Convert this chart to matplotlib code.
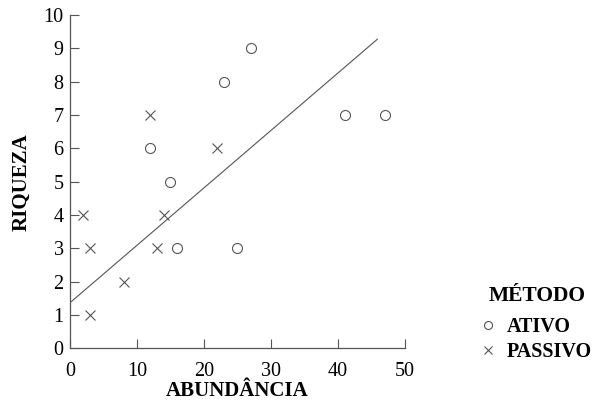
#!/usr/bin/env python3

import matplotlib
matplotlib.use("Agg")
import matplotlib.pyplot as plt
import numpy as np

# data
ativoX = [12, 15, 16, 23, 25, 27, 41, 47]
ativoY = [6, 5, 3, 8, 3, 9, 7, 7]
passivoX = [2, 3, 3, 8, 12, 13, 14, 22]
passivoY = [4, 3, 1, 2, 7, 3, 4, 6]
fitX = [0, 45.9]
fitY = [1.37, 9.27]
xTicks = [0, 10, 20, 30, 40, 50]
yTicks = list(range(0, 11))

plt.rcParams["font.family"] = ["Liberation Serif", "DejaVu Serif"]
grey = "#555555"

fig = plt.figure(figsize=(5.98, 4.01), dpi=100)
ax = fig.add_axes([0.117, 0.131, 0.56, 0.832])

ax.plot(fitX, fitY, color=grey, linewidth=0.8)
ax.plot(ativoX, ativoY, linestyle="none", marker="o", markersize=7.2,
	markerfacecolor="none", markeredgecolor=grey, markeredgewidth=0.8, label="ATIVO")
ax.plot(passivoX, passivoY, linestyle="none", marker="x", markersize=6.5,
	color=grey, markeredgewidth=0.8, label="PASSIVO")

ax.set_xlim(0, 50)
ax.set_ylim(0, 10)
ax.set_xticks(xTicks)
ax.set_yticks(yTicks)
ax.spines["top"].set_visible(False)
ax.spines["right"].set_visible(False)
for side in ["left", "bottom"]:
	ax.spines[side].set_color(grey)
	ax.spines[side].set_linewidth(0.9)
ax.tick_params(direction="in", length=6.5, width=0.8, color=grey, labelsize=14.5)
ax.tick_params(axis="x", pad=9.5)
ax.tick_params(axis="y", pad=4.5)

ax.set_xlabel("ABUNDÂNCIA", fontsize=15, fontweight="bold", labelpad=0.5)
ax.set_ylabel("RIQUEZA", fontsize=15, fontweight="bold", labelpad=9)

fig.text(0.899, 0.249, "MÉTODO", fontsize=15.5, fontweight="bold", ha="center", va="baseline")
leg = ax.legend(loc="center left", bbox_to_anchor=(0.803, 0.153), bbox_transform=fig.transFigure,
	frameon=False, prop={"size": 14.5, "weight": "bold"}, markerscale=0.8,
	handlelength=0.8, handletextpad=0.5, borderaxespad=0, borderpad=0, labelspacing=0.25)

fig.savefig("out.png", dpi=100)
